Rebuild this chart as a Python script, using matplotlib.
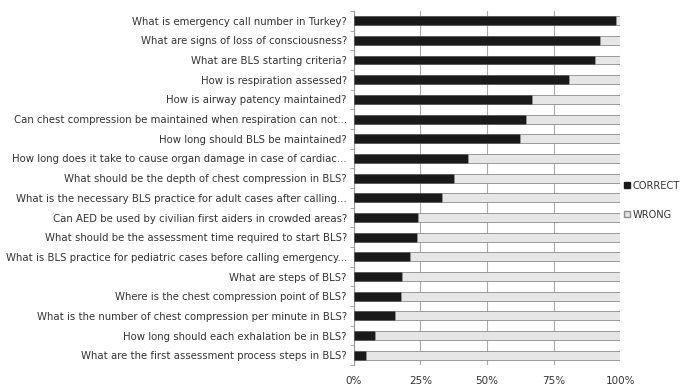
import matplotlib
matplotlib.use("Agg")
import matplotlib.pyplot as plt
from matplotlib.patches import Patch
from matplotlib.ticker import FuncFormatter

questions = [
    "What is emergency call number in Turkey?",
    "What are signs of loss of consciousness?",
    "What are BLS starting criteria?",
    "How is respiration assessed?",
    "How is airway patency maintained?",
    "Can chest compression be maintained when respiration can not...",
    "How long should BLS be maintained?",
    "How long does it take to cause organ damage in case of cardiac...",
    "What should be the depth of chest compression in BLS?",
    "What is the necessary BLS practice for adult cases after calling...",
    "Can AED be used by civilian first aiders in crowded areas?",
    "What should be the assessment time required to start BLS?",
    "What is BLS practice for pediatric cases before calling emergency...",
    "What are steps of BLS?",
    "Where is the chest compression point of BLS?",
    "What is the number of chest compression per minute in BLS?",
    "How long should each exhalation be in BLS?",
    "What are the first assessment process steps in BLS?",
]
correct = [98.4, 92.5, 90.6, 80.7, 66.9, 64.5, 62.4, 42.9, 37.5, 33.3,
           24.1, 23.6, 21.0, 18.1, 17.8, 15.4, 7.9, 4.5]
wrong = [100 - c for c in correct]
xticks = [0, 25, 50, 75, 100]

fig = plt.figure(figsize=(6.83, 3.88), dpi=100)
ax = fig.add_axes([0.518, 0.059, 0.39, 0.913])

y = list(range(len(questions)))
h = 0.45
ax.barh(y, correct, height=h, color="#1a1a1a", edgecolor="#555555", linewidth=0.6,
        label="CORRECT", zorder=3)
ax.barh(y, wrong, left=correct, height=h, color="#e6e6e6", edgecolor="#8c8c8c",
        linewidth=0.6, label="WRONG", zorder=3)

ax.set_ylim(len(questions) - 0.5, -0.5)
ax.set_xlim(0, 100)
ax.set_yticks(y)
ax.set_yticklabels(questions, fontsize=7.3, color="#333333")
ax.set_xticks(xticks)
ax.xaxis.set_major_formatter(FuncFormatter(lambda v, p: f"{int(v)}%"))
ax.tick_params(axis="x", length=0, labelsize=7.5, labelcolor="#333333", pad=8)
ax.tick_params(axis="y", length=0, pad=5)
# minor ticks between categories on y axis
ax.set_yticks([i - 0.5 for i in range(len(questions) + 1)], minor=True)
ax.tick_params(axis="y", which="minor", length=3, color="#999999", width=0.6)

ax.grid(axis="x", color="#aaaaaa", linewidth=0.8, zorder=0)
for s in ["top", "bottom", "right"]:
    ax.spines[s].set_visible(False)
ax.spines["left"].set_color("#999999")
ax.spines["left"].set_linewidth(0.8)

handles = [Patch(facecolor="#1a1a1a", edgecolor="#1a1a1a"),
           Patch(facecolor="#e6e6e6", edgecolor="#8c8c8c")]
fig.legend(handles, ["CORRECT", "WRONG"], loc="upper left",
           bbox_to_anchor=(0.914, 0.534), frameon=False, fontsize=7.1,
           handlelength=0.6, handleheight=0.6, handletextpad=0.25,
           labelspacing=1.9, labelcolor="#333333", borderaxespad=0, borderpad=0)

fig.savefig("out.png", dpi=100, facecolor="white")
